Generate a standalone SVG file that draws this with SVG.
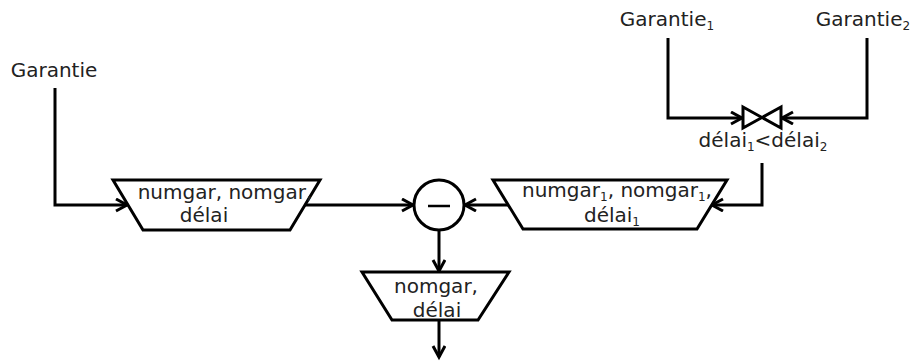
<svg xmlns="http://www.w3.org/2000/svg" width="917" height="361" viewBox="0 0 917 361">
<style>
.ln{fill:none;stroke:#000;stroke-width:3;}
.sh{fill:#fff;stroke:#000;stroke-width:3;stroke-linejoin:miter;}
.mn{fill:none;stroke:#000;stroke-width:2.5;}
text{font-family:"DejaVu Sans","Liberation Sans",sans-serif;font-size:20px;fill:#222;text-anchor:middle;}
.sub{font-size:12px;}
</style>
<defs>
<marker id="arr" markerUnits="userSpaceOnUse" markerWidth="16" markerHeight="16" refX="12" refY="7" orient="auto">
<path d="M1,1 L12,7 L1,13" fill="none" stroke="#000" stroke-width="3"/>
</marker>
</defs>
<g id="connectors">
<path class="ln" d="M55,88 V205 H127" marker-end="url(#arr)"/>
<path class="ln" d="M305,205 H413" marker-end="url(#arr)"/>
<path class="ln" d="M509,205 H465" marker-end="url(#arr)"/>
<path class="ln" d="M439,231 V271" marker-end="url(#arr)"/>
<path class="ln" d="M439,320 V357" marker-end="url(#arr)"/>
<path class="ln" d="M668,38 V118 H742" marker-end="url(#arr)"/>
<path class="ln" d="M867,38 V118 H782" marker-end="url(#arr)"/>
<path class="ln" d="M762,163 V205 H712" marker-end="url(#arr)"/>
</g>
<g id="garantie">
<text x="54" y="77">Garantie</text>
</g>
<g id="garantie1">
<text x="667" y="26">Garantie<tspan class="sub" dy="4">1</tspan></text>
</g>
<g id="garantie2">
<text x="863" y="26">Garantie<tspan class="sub" dy="4">2</tspan></text>
</g>
<g id="proj1">
<polygon class="sh" points="113,180 320,180 290,230 143,230"/>
<text x="225" y="199">numgar, nomgar,</text>
<text x="204" y="222">délai</text>
</g>
<g id="join">
<path class="sh" d="M743,107 L781,128 L781,107 L743,128 Z"/>
<text x="763" y="147">délai<tspan class="sub" dy="4">1</tspan><tspan dy="-4">&lt;délai</tspan><tspan class="sub" dy="4">2</tspan></text>
</g>
<g id="proj2">
<polygon class="sh" points="493,180 727,180 697,229 523,229"/>
<text x="617" y="197">numgar<tspan class="sub" dy="4">1</tspan><tspan dy="-4">, nomgar</tspan><tspan class="sub" dy="4">1</tspan><tspan dy="-4">,</tspan></text>
<text x="612" y="222">délai<tspan class="sub" dy="4">1</tspan></text>
</g>
<g id="minus">
<circle class="sh" cx="439" cy="205" r="25"/>
<path class="mn" d="M428,206 H450"/>
</g>
<g id="proj3">
<polygon class="sh" points="362,272 509,272 478,320 392,320"/>
<text x="436" y="293">nomgar,</text>
<text x="437" y="317">délai</text>
</g>
</svg>
